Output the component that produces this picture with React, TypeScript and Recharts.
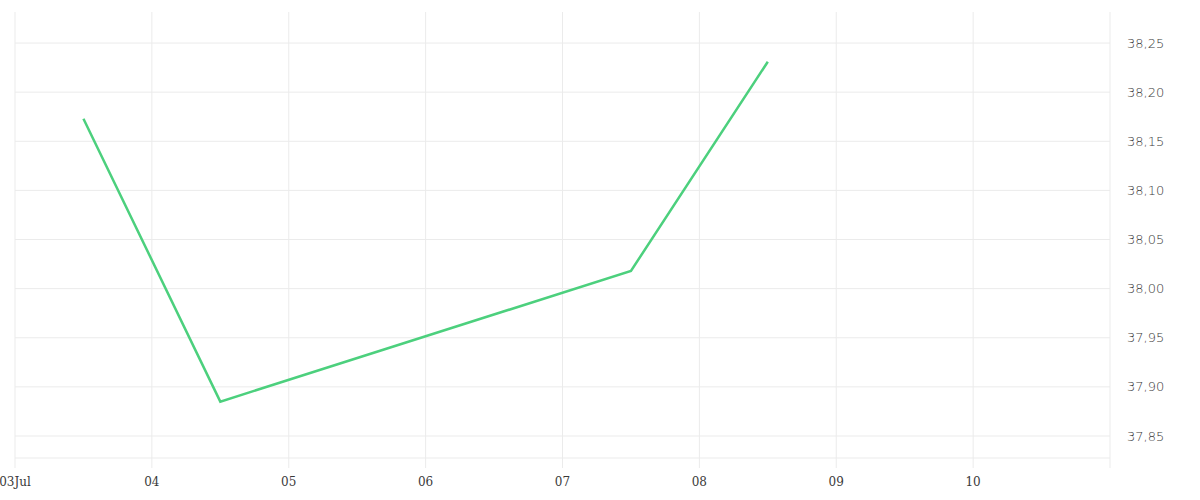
import React from 'react';
import { LineChart, Line, XAxis, YAxis, CartesianGrid } from 'recharts';

// day of month (July), points sit at midday
const days = [3.5, 4.5, 7.5, 8.5];
const prices = [38.173, 37.885, 38.018, 38.231];

const xTicks = [3, 4, 5, 6, 7, 8, 9, 10, 11];
const xTickLabels = ['03Jul', '04', '05', '06', '07', '08', '09', '10', ''];
const yTicks = [37.85, 37.9, 37.95, 38.0, 38.05, 38.1, 38.15, 38.2, 38.25];

const GRID = '#ebebeb';
const LINE_COLOR = '#4cd07d';

const data = days.map((d, i) => ({ day: d, price: prices[i] }));

export default function App() {
  return (
    <div style={{ position: 'absolute', left: 0, top: 0 }}>
      <LineChart
        width={1200}
        height={500}
        data={data}
        margin={{ top: 12, right: 30, left: 15, bottom: 0 }}
      >
        <CartesianGrid
          stroke={GRID}
          strokeWidth={1}
          horizontalValues={yTicks}
          verticalValues={xTicks}
        />
        <XAxis
          type="number"
          dataKey="day"
          domain={[3, 11]}
          ticks={xTicks}
          tickFormatter={(v: number) => xTickLabels[xTicks.indexOf(v)] ?? ''}
          interval={0}
          height={42}
          stroke={GRID}
          tickSize={10}
          tickMargin={9}
          tick={{ fill: '#3a3a3a', fontSize: 12, fontFamily: 'DejaVu Serif' }}
        />
        <YAxis
          orientation="right"
          domain={[37.8276, 38.2816]}
          ticks={yTicks}
          tickFormatter={(v: number) => v.toFixed(2).replace('.', ',')}
          width={60}
          axisLine={false}
          tickLine={false}
          tickSize={6}
          tickMargin={11}
          tick={{ fill: '#3a3a3a', fontSize: 13, fontFamily: 'DejaVu Sans', fontWeight: 200 }}
        />
        <Line
          type="linear"
          dataKey="price"
          stroke={LINE_COLOR}
          strokeWidth={2.5}
          dot={false}
          isAnimationActive={false}
        />
      </LineChart>
    </div>
  );
}
